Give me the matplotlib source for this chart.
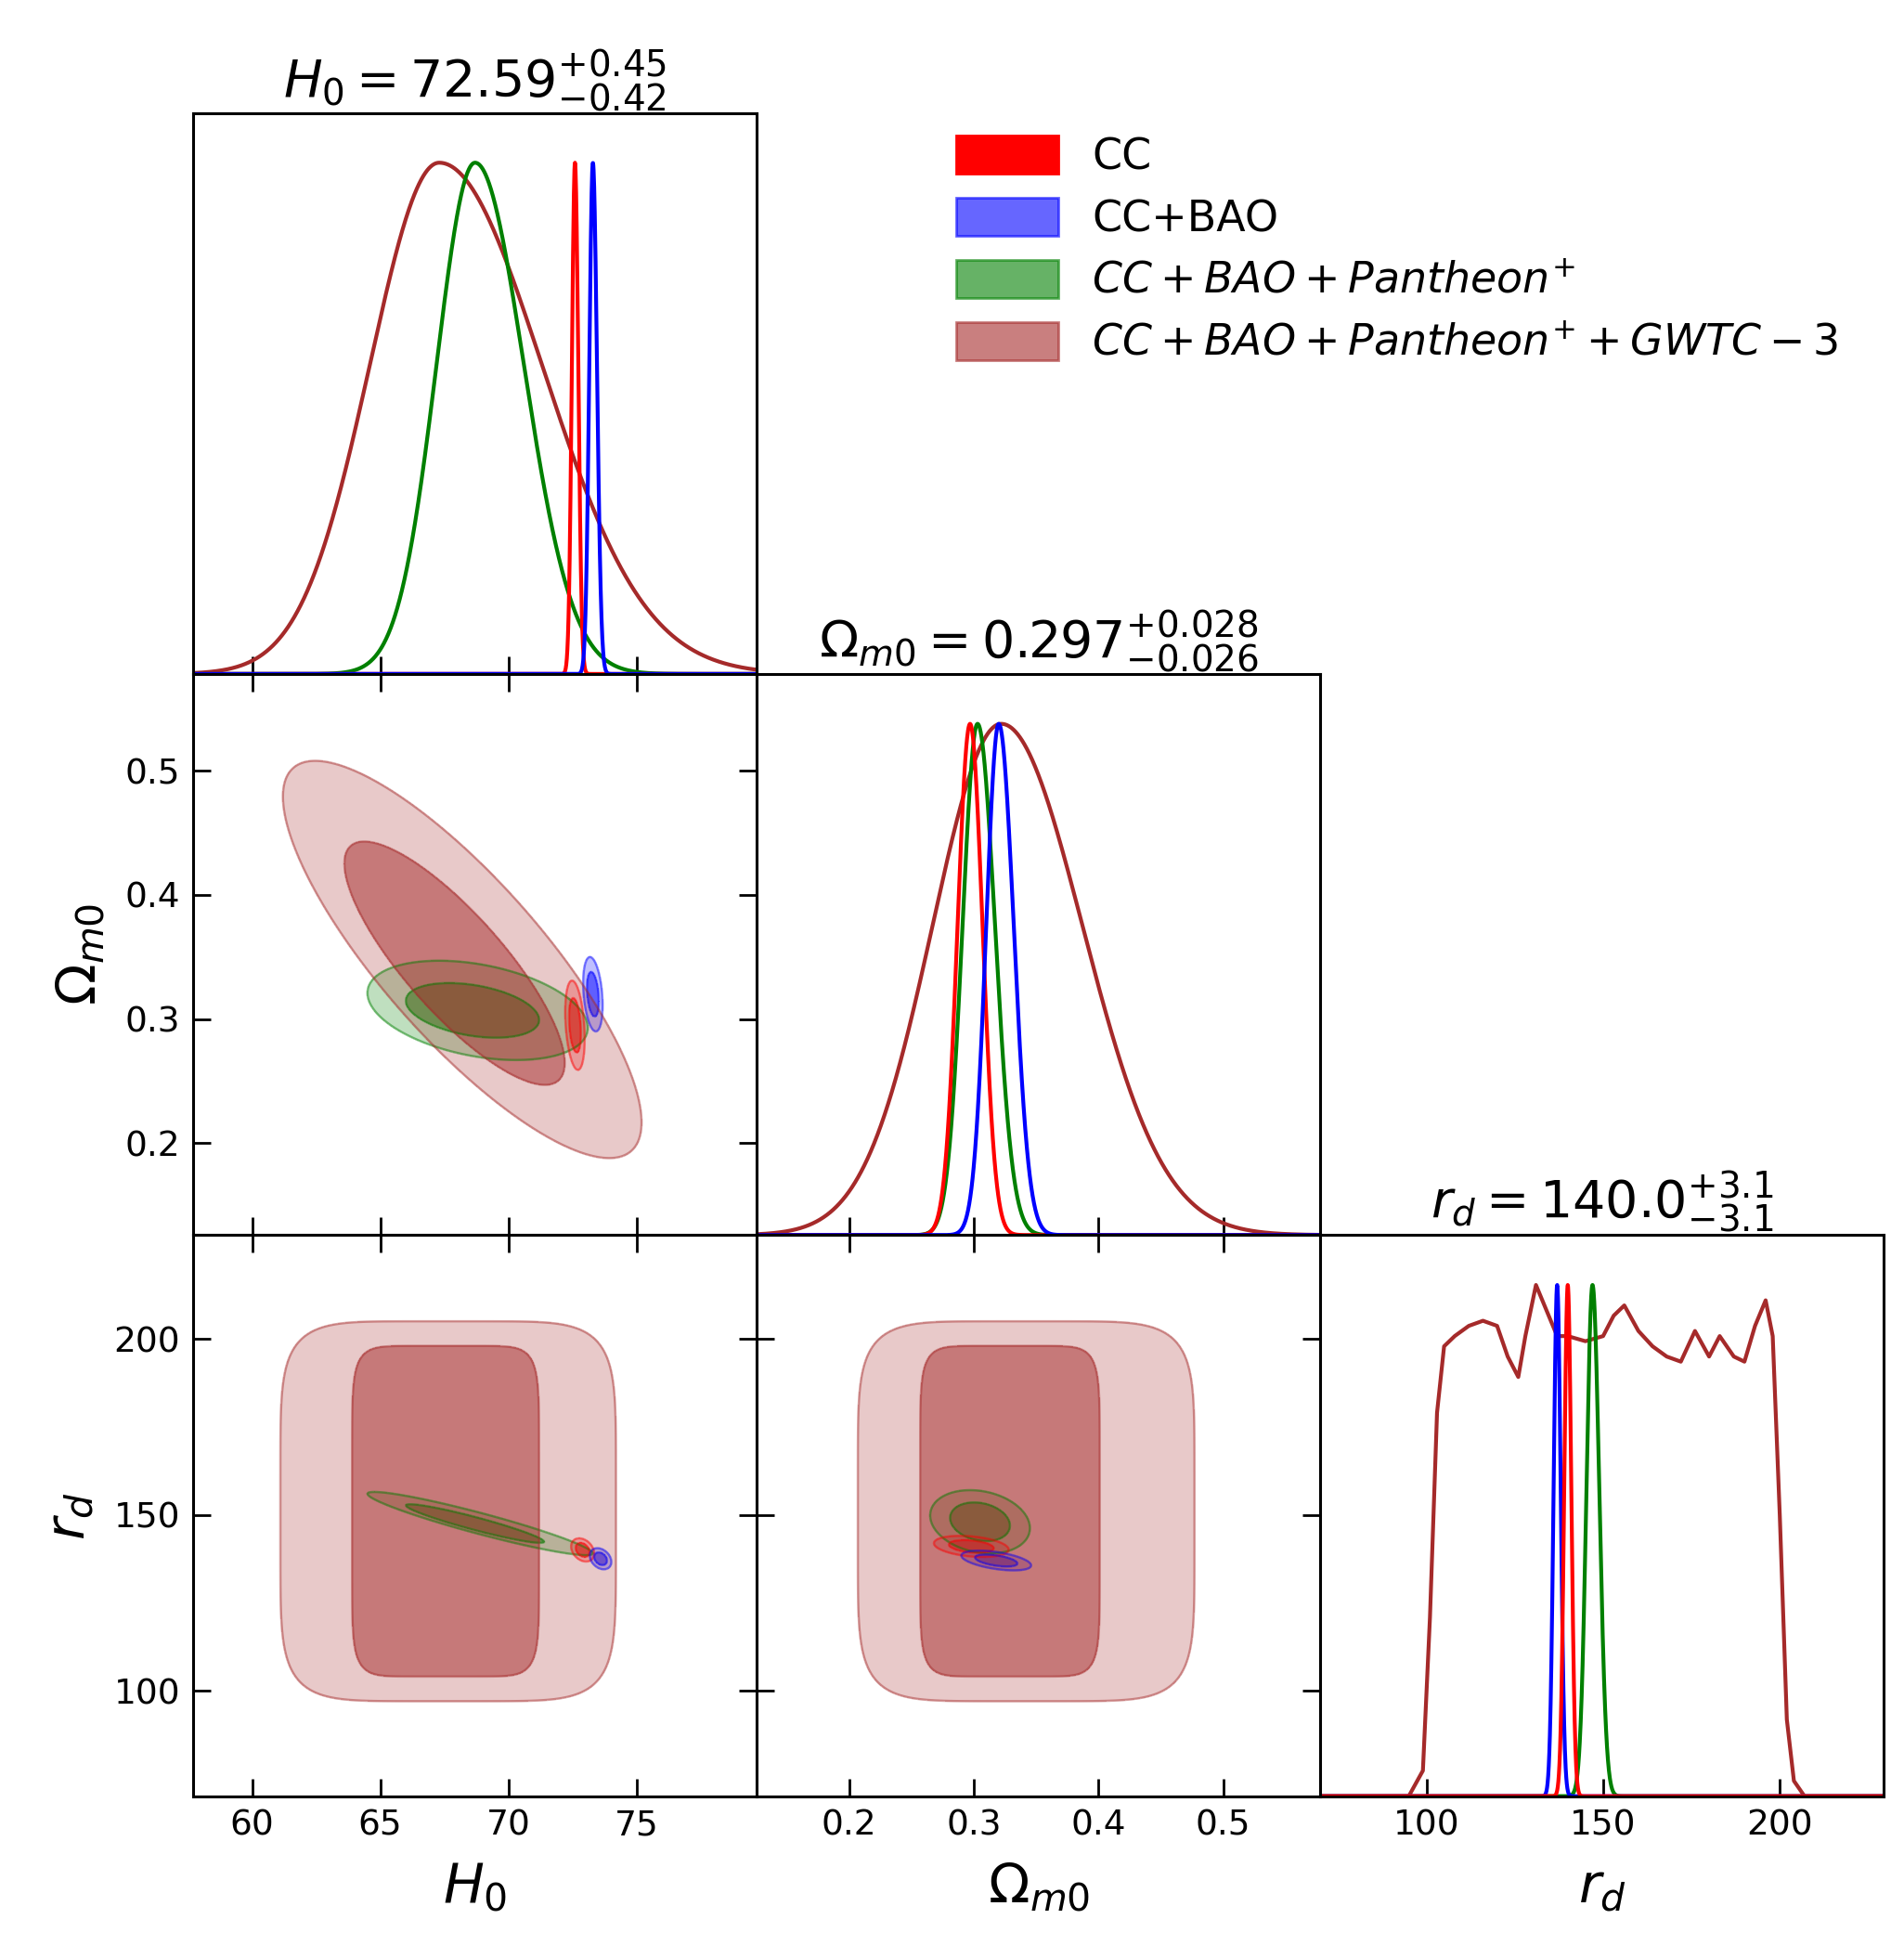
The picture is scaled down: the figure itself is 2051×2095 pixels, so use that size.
import numpy as np
import matplotlib
matplotlib.use("Agg")
import matplotlib.pyplot as plt
from matplotlib.patches import Patch

# ---- data ----
names = ["CC", "CC+BAO", r"$CC+BAO+Pantheon^{+}$", r"$CC+BAO+Pantheon^{+}+GWTC-3$"]
colors = ["#ff0000", "#0000ff", "#008000", "#a52a2a"]
params = ["H0", "Om", "rd"]
labels = [r"$H_0$", r"$\Omega_{m0}$", r"$r_d$"]
titles = [r"$H_0 = 72.59^{+0.45}_{-0.42}$", r"$\Omega_{m0} = 0.297^{+0.028}_{-0.026}$",
          r"$r_d = 140.0^{+3.1}_{-3.1}$"]
ranges = {"H0": (57.7, 79.7), "Om": (0.126, 0.578), "rd": (70.0, 229.5)}
ticks = {"H0": [60, 65, 70, 75], "Om": [0.2, 0.3, 0.4, 0.5], "rd": [100, 150, 200]}

# 1D marginals: peak, sigma_left, sigma_right per dataset
h0_1d = [(72.6, 0.12, 0.13), (73.3, 0.14, 0.16), (68.7, 1.5, 1.9), (67.3, 2.7, 4.0)]
om_1d = [(0.297, 0.010, 0.010), (0.320, 0.010, 0.012), (0.303, 0.012, 0.014), (0.322, 0.055, 0.065)]
rd_1d = [(140.0, 1.0, 1.0), (137.0, 1.0, 1.0), (147.0, 1.7, 1.9)]
rd_brown_x = [70, 95, 99, 101, 103, 105, 108, 112, 116, 120, 123, 126, 128, 131, 134, 137, 140,
              145, 150, 153, 156, 160, 164, 168, 172, 176, 180, 183, 187, 190, 193, 196, 198, 200,
              202, 204, 207, 230]
rd_brown_y = [0, 0, 0.05, 0.35, 0.75, 0.88, 0.9, 0.92, 0.93, 0.92, 0.86, 0.82, 0.9, 1.0, 0.95,
              0.9, 0.9, 0.89, 0.9, 0.94, 0.96, 0.91, 0.88, 0.86, 0.85, 0.91, 0.86, 0.9, 0.86, 0.85,
              0.92, 0.97, 0.9, 0.55, 0.15, 0.03, 0, 0]

# 2D contours: (xpar, ypar, dataset, level, cx, cy, half-width x, half-width y, rho, p)
contours = [
    ("H0", "Om", 2, 0, 68.8, 0.307, 4.3, 0.040, -0.35, 2),
    ("H0", "Om", 2, 1, 68.6, 0.307, 2.6, 0.022, -0.35, 2),
    ("H0", "Om", 0, 0, 72.6, 0.295, 0.38, 0.036, -0.3, 2),
    ("H0", "Om", 0, 1, 72.6, 0.295, 0.23, 0.022, -0.3, 2),
    ("H0", "Om", 1, 0, 73.3, 0.320, 0.38, 0.030, -0.3, 2),
    ("H0", "Om", 1, 1, 73.3, 0.320, 0.23, 0.018, -0.3, 2),
    ("H0", "Om", 3, 0, 68.2, 0.348, 7.0, 0.160, -0.82, 2),
    ("H0", "Om", 3, 1, 67.9, 0.345, 4.3, 0.098, -0.82, 2),
    ("H0", "rd", 2, 0, 68.9, 147.5, 4.4, 9.0, -0.94, 2),
    ("H0", "rd", 2, 1, 68.7, 147.5, 2.7, 5.5, -0.94, 2),
    ("H0", "rd", 0, 0, 72.9, 140.0, 0.45, 3.3, -0.3, 2),
    ("H0", "rd", 0, 1, 72.9, 140.0, 0.27, 2.0, -0.3, 2),
    ("H0", "rd", 1, 0, 73.6, 137.5, 0.42, 3.0, -0.3, 2),
    ("H0", "rd", 1, 1, 73.6, 137.5, 0.25, 1.8, -0.3, 2),
    ("H0", "rd", 3, 0, 67.65, 151.0, 6.55, 54.0, 0.0, 6),
    ("H0", "rd", 3, 1, 67.55, 151.0, 3.65, 47.0, 0.0, 8),
    ("Om", "rd", 2, 0, 0.305, 148.0, 0.040, 9.0, -0.2, 2),
    ("Om", "rd", 2, 1, 0.305, 148.0, 0.024, 5.5, -0.2, 2),
    ("Om", "rd", 0, 0, 0.298, 141.0, 0.030, 3.0, -0.3, 2),
    ("Om", "rd", 0, 1, 0.298, 141.0, 0.018, 1.8, -0.3, 2),
    ("Om", "rd", 1, 0, 0.318, 137.0, 0.028, 2.8, -0.5, 2),
    ("Om", "rd", 1, 1, 0.318, 137.0, 0.017, 1.7, -0.5, 2),
    ("Om", "rd", 3, 0, 0.342, 151.0, 0.135, 54.0, 0.0, 6),
    ("Om", "rd", 3, 1, 0.329, 151.0, 0.072, 47.0, 0.0, 8),
]

# ---- figure ----
plt.rcParams['mathtext.fontset'] = 'dejavusans'
fig = plt.figure(figsize=(20.51, 20.95), dpi=100)
L, W, T, H = 0.1015, 0.296, 0.942, 0.2885
axes = {}
for i in range(3):
    for j in range(i + 1):
        ax = fig.add_axes([L + j * W, T - (i + 1) * H, W, H])
        axes[(i, j)] = ax
        ax.set_xlim(*ranges[params[j]])
        ax.set_xticks(ticks[params[j]])
        ax.tick_params(direction="in", length=14, width=2, labelsize=27, pad=10,
                       top=(i != j), right=(i != j))
        for s in ax.spines.values():
            s.set_linewidth(2.2)
        if i == j:
            ax.set_ylim(0, 1.0976)
            ax.set_yticks([])
            ax.set_title(titles[i], fontsize=40, pad=10)
        else:
            ax.set_ylim(*ranges[params[i]])
            ax.set_yticks(ticks[params[i]])
        if i != 2:
            ax.set_xticklabels([])
        else:
            ax.set_xlabel(labels[j], fontsize=42, labelpad=14)
        if j != 0 or i == 0:
            ax.set_yticklabels([])
        else:
            ax.set_ylabel(labels[i], fontsize=42, labelpad=14)

def asym(x, m, sl, sr):
    s = np.where(x < m, sl, sr)
    return np.exp(-0.5 * ((x - m) / s) ** 2)

order = [3, 2, 0, 1]
for k in order:
    x = np.linspace(*ranges["H0"], 2000)
    axes[(0, 0)].plot(x, asym(x, *h0_1d[k]), color=colors[k], lw=3)
    x = np.linspace(*ranges["Om"], 2000)
    axes[(1, 1)].plot(x, asym(x, *om_1d[k]), color=colors[k], lw=3)
axes[(2, 2)].plot(rd_brown_x, rd_brown_y, color=colors[3], lw=3)
for k in [2, 1, 0]:
    x = np.linspace(*ranges["rd"], 3000)
    axes[(2, 2)].plot(x, asym(x, *rd_1d[k]), color=colors[k], lw=3)

alphas = [0.25, 0.5]
for (xp, yp, k, lev, cx, cy, axx, ayy, rho, p) in contours:
    ax = axes[(params.index(yp), params.index(xp))]
    X, Y = np.meshgrid(np.linspace(*ranges[xp], 500), np.linspace(*ranges[yp], 500))
    u = (X - cx) / axx
    v = (Y - cy) / ayy
    if p == 2:
        r = np.sqrt((u ** 2 - 2 * rho * u * v + v ** 2) / (1 - rho ** 2))
    else:
        r = (np.abs(u) ** p + np.abs(v) ** p) ** (1 / p)
    ax.contourf(X, Y, r, levels=[0, 1], colors=[colors[k]], alpha=alphas[lev])
    ax.contour(X, Y, r, levels=[1], colors=[colors[k]], alpha=0.45, linewidths=1.8)

handles = [Patch(facecolor=colors[k], edgecolor=colors[k], alpha=a, lw=2)
           for k, a in zip(range(4), [1.0, 0.6, 0.6, 0.6])]
fig.legend(handles, names, loc="upper left", bbox_to_anchor=(0.482, 0.95), fontsize=33,
           frameon=False, handlelength=2.4, handleheight=1.0, labelspacing=0.45)
fig.savefig("out.png", dpi=100)
